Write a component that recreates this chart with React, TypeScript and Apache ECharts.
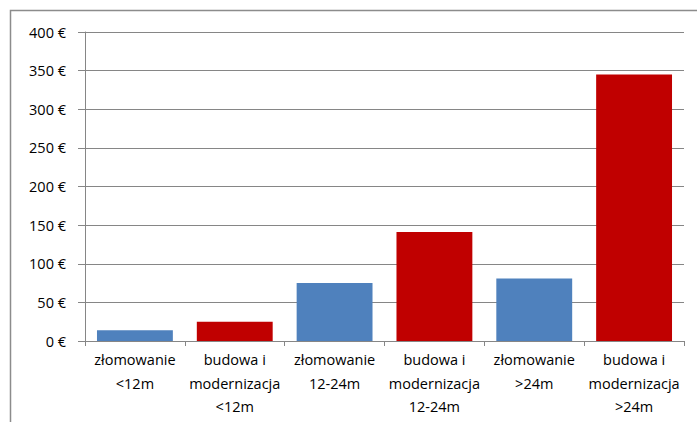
import React, { useEffect, useRef } from "react";
import * as echarts from "echarts";

const categories = [
  "złomowanie\n<12m",
  "budowa i\nmodernizacja\n<12m",
  "złomowanie\n12-24m",
  "budowa i\nmodernizacja\n12-24m",
  "złomowanie\n>24m",
  "budowa i\nmodernizacja\n>24m",
];
const values = [14, 25, 75, 141, 81, 345];
const colors = ["#4F81BD", "#C00000", "#4F81BD", "#C00000", "#4F81BD", "#C00000"];

export default function App() {
  const ref = useRef<HTMLDivElement>(null);
  useEffect(() => {
    document.body.style.margin = "0";
    const chart = echarts.init(ref.current!, null, { renderer: "svg" });
    chart.setOption({
      animation: false,
      backgroundColor: "#ffffff",
      graphic: [
        {
          type: "rect",
          shape: { x: 10.5, y: 10.5, width: 700, height: 430 },
          style: { fill: "none", stroke: "#8c8c8c", lineWidth: 1.5 },
        },
      ],
      grid: { left: 85, right: 13, top: 32, bottom: 81 },
      xAxis: {
        type: "category",
        data: categories,
        axisLine: { lineStyle: { color: "#868686" } },
        axisTick: { show: true, length: 5, alignWithLabel: false, lineStyle: { color: "#868686" } },
        axisLabel: {
          interval: 0,
          margin: 7,
          fontFamily: "Open Sans",
          fontSize: 14.5,
          color: "#000",
          lineHeight: 23.5,
        },
      },
      yAxis: {
        type: "value",
        min: 0,
        max: 400,
        interval: 50,
        axisLine: { show: true, lineStyle: { color: "#868686" } },
        axisTick: { show: true, length: 7, lineStyle: { color: "#868686" } },
        splitLine: { lineStyle: { color: "#868686" } },
        axisLabel: {
          margin: 19,
          fontFamily: "Open Sans",
          fontSize: 14.5,
          color: "#000",
          formatter: (v: number) => v + " €",
        },
      },
      series: [
        {
          type: "bar",
          data: values.map((v, i) => ({ value: v, itemStyle: { color: colors[i] } })),
          barCategoryGap: "24%",
        },
      ],
    });
    return () => chart.dispose();
  }, []);
  return <div ref={ref} style={{ width: 697, height: 422 }} />;
}
